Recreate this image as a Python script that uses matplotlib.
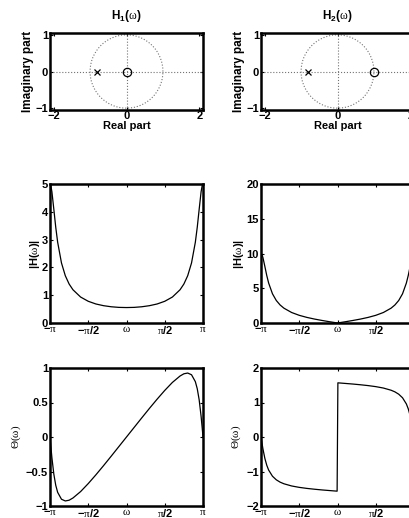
import numpy as np
import matplotlib
matplotlib.use("Agg")
import matplotlib.pyplot as plt

plt.rcParams['mathtext.fontset'] = 'custom'
plt.rcParams['mathtext.rm'] = 'Liberation Serif'
plt.rcParams['mathtext.it'] = 'Liberation Serif:italic'
plt.rcParams['mathtext.bf'] = 'Liberation Sans:bold'
plt.rcParams['mathtext.sf'] = 'Liberation Sans'
plt.rcParams['font.family'] = ['Liberation Sans', 'DejaVu Sans']

# ---- data ----
titles = [r'$\mathbf{H_1(}\mathrm{\omega}\mathbf{)}$', r'$\mathbf{H_2(}\mathrm{\omega}\mathbf{)}$']
zeros_re = [0.0, 1.0]
poles_re = [-0.8, -0.8]

# frequency in units of pi
w_frac = [-1.0, -0.99, -0.975, -0.95, -0.925, -0.9, -0.85, -0.8, -0.75, -0.7, -0.6, -0.5,
          -0.4, -0.3, -0.2, -0.1, -0.005, 0.005, 0.1, 0.2, 0.3, 0.4, 0.5, 0.6, 0.7, 0.75,
          0.8, 0.85, 0.9, 0.925, 0.95, 0.975, 0.99, 1.0]

mag1 = [5.0, 4.951, 4.718, 4.093, 3.446, 2.907, 2.160, 1.701, 1.402, 1.196, 0.934, 0.781,
        0.684, 0.623, 0.584, 0.562, 0.556, 0.556, 0.562, 0.584, 0.623, 0.684, 0.781, 0.934,
        1.196, 1.402, 1.701, 2.160, 2.907, 3.446, 4.093, 4.718, 4.951, 5.0]
phase1 = [0.0, -0.125, -0.301, -0.538, -0.699, -0.802, -0.902, -0.927, -0.916, -0.884, -0.791,
          -0.675, -0.548, -0.415, -0.278, -0.139, -0.007, 0.007, 0.139, 0.278, 0.415, 0.548,
          0.675, 0.791, 0.884, 0.916, 0.927, 0.902, 0.802, 0.699, 0.538, 0.301, 0.125, 0.0]

mag2 = [10.0, 9.903, 9.428, 8.160, 6.844, 5.743, 4.200, 3.236, 2.591, 2.131, 1.512, 1.104,
        0.805, 0.565, 0.361, 0.176, 0.009, 0.009, 0.176, 0.361, 0.565, 0.805, 1.104, 1.512,
        2.131, 2.591, 3.236, 4.200, 5.743, 6.844, 8.160, 9.428, 9.903, 10.0]
phase2 = [0.0, -0.140, -0.340, -0.616, -0.817, -0.959, -1.137, -1.241, -1.309, -1.356, -1.419,
          -1.460, -1.490, -1.514, -1.535, -1.553, -1.570, 1.570, 1.553, 1.535, 1.514, 1.490,
          1.460, 1.419, 1.356, 1.309, 1.241, 1.137, 0.959, 0.817, 0.616, 0.340, 0.140, 0.0]

mags = [mag1, mag2]
phases = [phase1, phase2]
mag_ylim = [(0, 5), (0, 20)]
mag_yticks = [[0, 1, 2, 3, 4, 5], [0, 5, 10, 15, 20]]
phase_ylim = [(-1, 1), (-2, 2)]
phase_yticks = [[-1, -0.5, 0, 0.5, 1], [-2, -1, 0, 1, 2]]

xtick_labels = [r'$\mathbf{-}\mathrm{\pi}$', r'$\mathbf{-}\mathrm{\pi}\mathbf{/2}$',
                r'$\mathrm{\omega}$', r'$\mathrm{\pi}\mathbf{/2}$', r'$\mathrm{\pi}$']

# ---- figure ----
W, H = 409, 518
fig = plt.figure(figsize=(W / 100, H / 100), dpi=100)

def pos(left, top, w, h):
    return [left / W, 1 - (top + h) / H, w / W, h / H]

lefts = [50, 261]
axw = 153
tfs = 8

def style(ax):
    for s in ax.spines.values():
        s.set_linewidth(1.8)
    ax.tick_params(direction='in', length=2.5, width=0.8, top=True, right=True,
                   labelsize=tfs)
    ax.tick_params(axis='x', pad=0.5)
    ax.tick_params(axis='y', pad=1.5)
    for lab in ax.get_yticklabels():
        lab.set_fontweight('bold')
    for lab in ax.get_xticklabels():
        lab.set_fontweight('bold')

def fmt(v):
    if float(v).is_integer():
        return str(int(v)).replace('-', '\u2212')
    return str(v).replace('-', '\u2212')

w = np.array(w_frac) * np.pi
theta = np.linspace(0, 2 * np.pi, 200)

for c in range(2):
    # pole-zero
    ax = fig.add_axes(pos(lefts[c], 33, axw, 77))
    ax.plot(np.cos(theta), np.sin(theta), ':', color='0.45', lw=0.8)
    ax.axhline(0, ls=':', color='0.45', lw=0.8)
    ax.axvline(0, ls=':', color='0.45', lw=0.8)
    ax.plot([poles_re[c]], [0], 'x', color='k', ms=4.5, mew=0.9)
    ax.plot([zeros_re[c]], [0], 'o', mfc='none', mec='k', ms=6, mew=0.9)
    ax.set_xlim(-2.1, 2.1)
    ax.set_ylim(-1.05, 1.05)
    ax.set_xticks([-2, 0, 2])
    ax.set_xticklabels([fmt(v) for v in [-2, 0, 2]])
    ax.set_yticks([-1, 0, 1])
    ax.set_yticklabels([fmt(v) for v in [-1, 0, 1]])
    ax.set_xlabel('Real part', fontsize=tfs, fontweight='bold', labelpad=0)
    ax.set_ylabel('Imaginary part', fontsize=8.5, fontweight='bold', labelpad=1)
    ax.set_title(titles[c], fontsize=8.5, pad=10)
    style(ax)

    # magnitude
    ax = fig.add_axes(pos(lefts[c], 184, axw, 139))
    ax.plot(w, mags[c], 'k-', lw=0.9)
    ax.set_xlim(-np.pi, np.pi)
    ax.set_ylim(*mag_ylim[c])
    ax.set_xticks([-np.pi, -np.pi / 2, 0, np.pi / 2, np.pi])
    ax.set_xticklabels(xtick_labels)
    ax.set_yticks(mag_yticks[c])
    ax.set_yticklabels([fmt(v) for v in mag_yticks[c]])
    ax.set_ylabel(r'$\mathbf{|H(}\mathrm{\omega}\mathbf{)|}$', fontsize=tfs, labelpad=0)
    style(ax)

    # phase
    ax = fig.add_axes(pos(lefts[c], 368, axw, 138))
    ax.plot(w, phases[c], 'k-', lw=0.9)
    ax.set_xlim(-np.pi, np.pi)
    ax.set_ylim(*phase_ylim[c])
    ax.set_xticks([-np.pi, -np.pi / 2, 0, np.pi / 2, np.pi])
    ax.set_xticklabels(xtick_labels)
    ax.set_yticks(phase_yticks[c])
    ax.set_yticklabels([fmt(v) for v in phase_yticks[c]])
    ax.set_ylabel(r'$\mathrm{\Theta(\omega)}$', fontsize=tfs, labelpad=2)
    style(ax)

fig.savefig('out.png', dpi=100)
